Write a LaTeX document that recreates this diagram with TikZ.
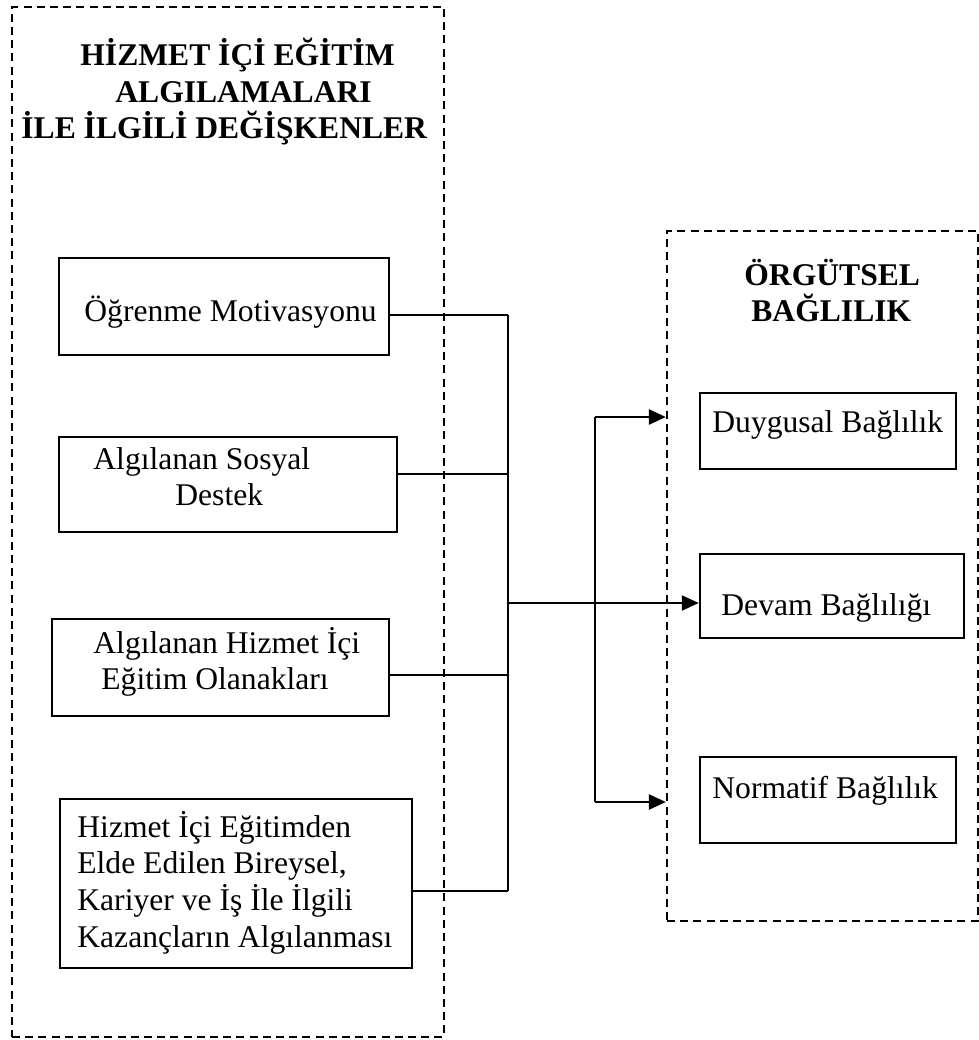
\documentclass[tikz,border=0pt]{standalone}
\usepackage{fontspec}
\setmainfont{Liberation Serif}
\usetikzlibrary{arrows.meta}
\begin{document}
\begin{tikzpicture}[x=0.5pt,y=-0.5pt,
  every node/.style={font=\fontsize{15.8}{18.3}\selectfont},
  frame/.style={draw, dash pattern=on 4pt off 2.6pt, line width=1.1pt, inner sep=0pt},
  varbox/.style={draw, line width=1.2pt, inner sep=0pt},
  txt/.style={anchor=base west, inner sep=0pt},
  ttl/.style={anchor=base west, inner sep=0pt, font=\fontsize{15.8}{18.3}\selectfont\bfseries},
  link/.style={line width=1.1pt},
  arr/.style={line width=1.1pt, -{Triangle[length=8.5pt,width=7.5pt]}}]
\useasboundingbox (0,0) rectangle (979,1040);

% dashed containers
\node[frame, minimum width=216pt, minimum height=515pt] (lc) at (228,522) {};
\node[frame, minimum width=155.5pt, minimum height=345pt] (rc) at (822.5,576) {};

% container headings
\node[ttl] (h1) at (80,65) {HİZMET İÇİ EĞİTİM};
\node[ttl] (h2) at (115,102) {ALGILAMALARI};
\node[ttl] (h3) at (21,138) {İLE İLGİLİ DEĞİŞKENLER};
\node[ttl] (h4) at (744,285) {ÖRGÜTSEL};
\node[ttl] (h5) at (751,321) {BAĞLILIK};

% predictor boxes
\node[varbox, minimum width=165pt, minimum height=48.5pt] (b1) at (224,306.5) {};
\node[varbox, minimum width=169pt, minimum height=47.5pt] (b2) at (228,484.5) {};
\node[varbox, minimum width=168.5pt, minimum height=48.5pt] (b3) at (220.5,667.5) {};
\node[varbox, minimum width=176pt, minimum height=84.5pt] (b4) at (236,883.5) {};

\node[txt] (t1) at (84,321) {Öğrenme Motivasyonu};
\node[txt] (t2a) at (93,469) {Algılanan Sosyal};
\node[txt] (t2b) at (175,505) {Destek};
\node[txt] (t3a) at (93,653) {Algılanan Hizmet İçi};
\node[txt] (t3b) at (101,689) {Eğitim Olanakları};
\node[txt] (t4a) at (77,837) {Hizmet İçi Eğitimden};
\node[txt] (t4b) at (77,873) {Elde Edilen Bireysel,};
\node[txt] (t4c) at (77,910) {Kariyer ve İş İle İlgili};
\node[txt] (t4d) at (77,947) {Kazançların Algılanması};

% commitment boxes
\node[varbox, minimum width=128pt, minimum height=38pt] (d1) at (828,431) {};
\node[varbox, minimum width=132pt, minimum height=42pt] (d2) at (832,596) {};
\node[varbox, minimum width=128pt, minimum height=43pt] (d3) at (828,800) {};

\node[txt] (s1) at (712,432) {Duygusal Bağlılık};
\node[txt] (s2) at (721,615) {Devam Bağlılığı};
\node[txt] (s3) at (712,798) {Normatif Bağlılık};

% junction points of the two buses
\coordinate (j1) at (508,315);
\coordinate (j2) at (508,474);
\coordinate (j3) at (508,675);
\coordinate (j4) at (508,891);
\coordinate (j5) at (508,603);
\coordinate (k1) at (595,417);
\coordinate (k2) at (595,603);
\coordinate (k3) at (595,802);

% predictors to collecting bus
\draw[link] (b1.east |- j1) -- (j1);
\draw[link] (b2.east |- j2) -- (j2);
\draw[link] (b3.east |- j3) -- (j3);
\draw[link] (b4.east |- j4) -- (j4);
\draw[link] (j1) -- (j4);

% bus to the commitment dimensions
\draw[arr] (j5) -- (d2.west |- j5);
\draw[link] (k1) -- (k3);
\draw[arr] (k1) -- (rc.west |- k1);
\draw[arr] (k3) -- (rc.west |- k3);
\end{tikzpicture}
\end{document}
